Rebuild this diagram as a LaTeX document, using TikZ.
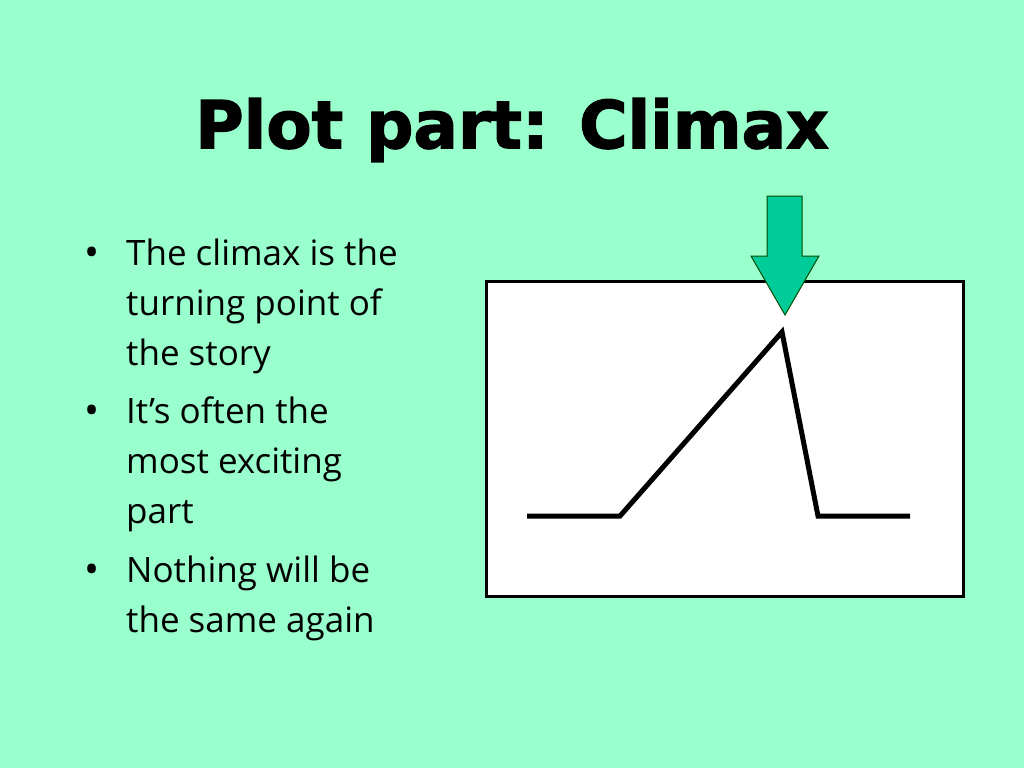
\documentclass[tikz,border=0pt]{standalone}
\usepackage{fontspec}
\setmainfont{Open Sans}
\newfontfamily\titlefont[FakeBold=2]{DejaVu Sans}
\definecolor{bg}{HTML}{99FFCC}
\definecolor{arrowgreen}{HTML}{00CC99}
\begin{document}
\begin{tikzpicture}[x=1pt,y=-1pt,
  body/.style={anchor=base west,inner sep=0pt,font=\fontsize{35}{40}\selectfont},
  bul/.style={anchor=base west,inner sep=0pt,font=\fontsize{40}{40}\selectfont},
  plotline/.style={line width=5pt,line join=miter}]
\fill[bg] (0,0) rectangle (1024,768);
\useasboundingbox (0,0) rectangle (1024,768);
\node[inner sep=0pt,font=\titlefont\bfseries\fontsize{66}{70}\selectfont] (title) at (512,130) {Plot part: Climax};
\node[bul] (b1) at (84,266) {•};
\node[body] (t1) at (126,265) {The climax is the};
\node[body] (t2) at (126,315) {turning point of};
\node[body] (t3) at (126,365) {the story};
\node[bul] (b2) at (84,424) {•};
\node[body] (t4) at (126,423) {It’s often the};
\node[body] (t5) at (126,473) {most exciting};
\node[body] (t6) at (126,523) {part};
\node[bul] (b3) at (84,583) {•};
\node[body] (t7) at (126,582) {Nothing will be};
\node[body] (t8) at (126,632) {the same again};
\node[draw,line width=3pt,fill=white,minimum width=477pt,minimum height=315pt,inner sep=0pt] (box) at (725,439) {};
\coordinate (p1) at (527,516);
\coordinate (p2) at (620,516);
\coordinate (p3) at (782,332);
\coordinate (p4) at (818,516);
\coordinate (p5) at (910,516);
\draw[plotline] (p1) -- (p2) -- (p3) -- (p4) -- (p5);
\fill[arrowgreen,draw=black!70!green,line width=1pt] (767,196) -- (802,196) -- (802,256) -- (819,256) -- (785,315) -- (751,256) -- (767,256) -- cycle;
\end{tikzpicture}
\end{document}
